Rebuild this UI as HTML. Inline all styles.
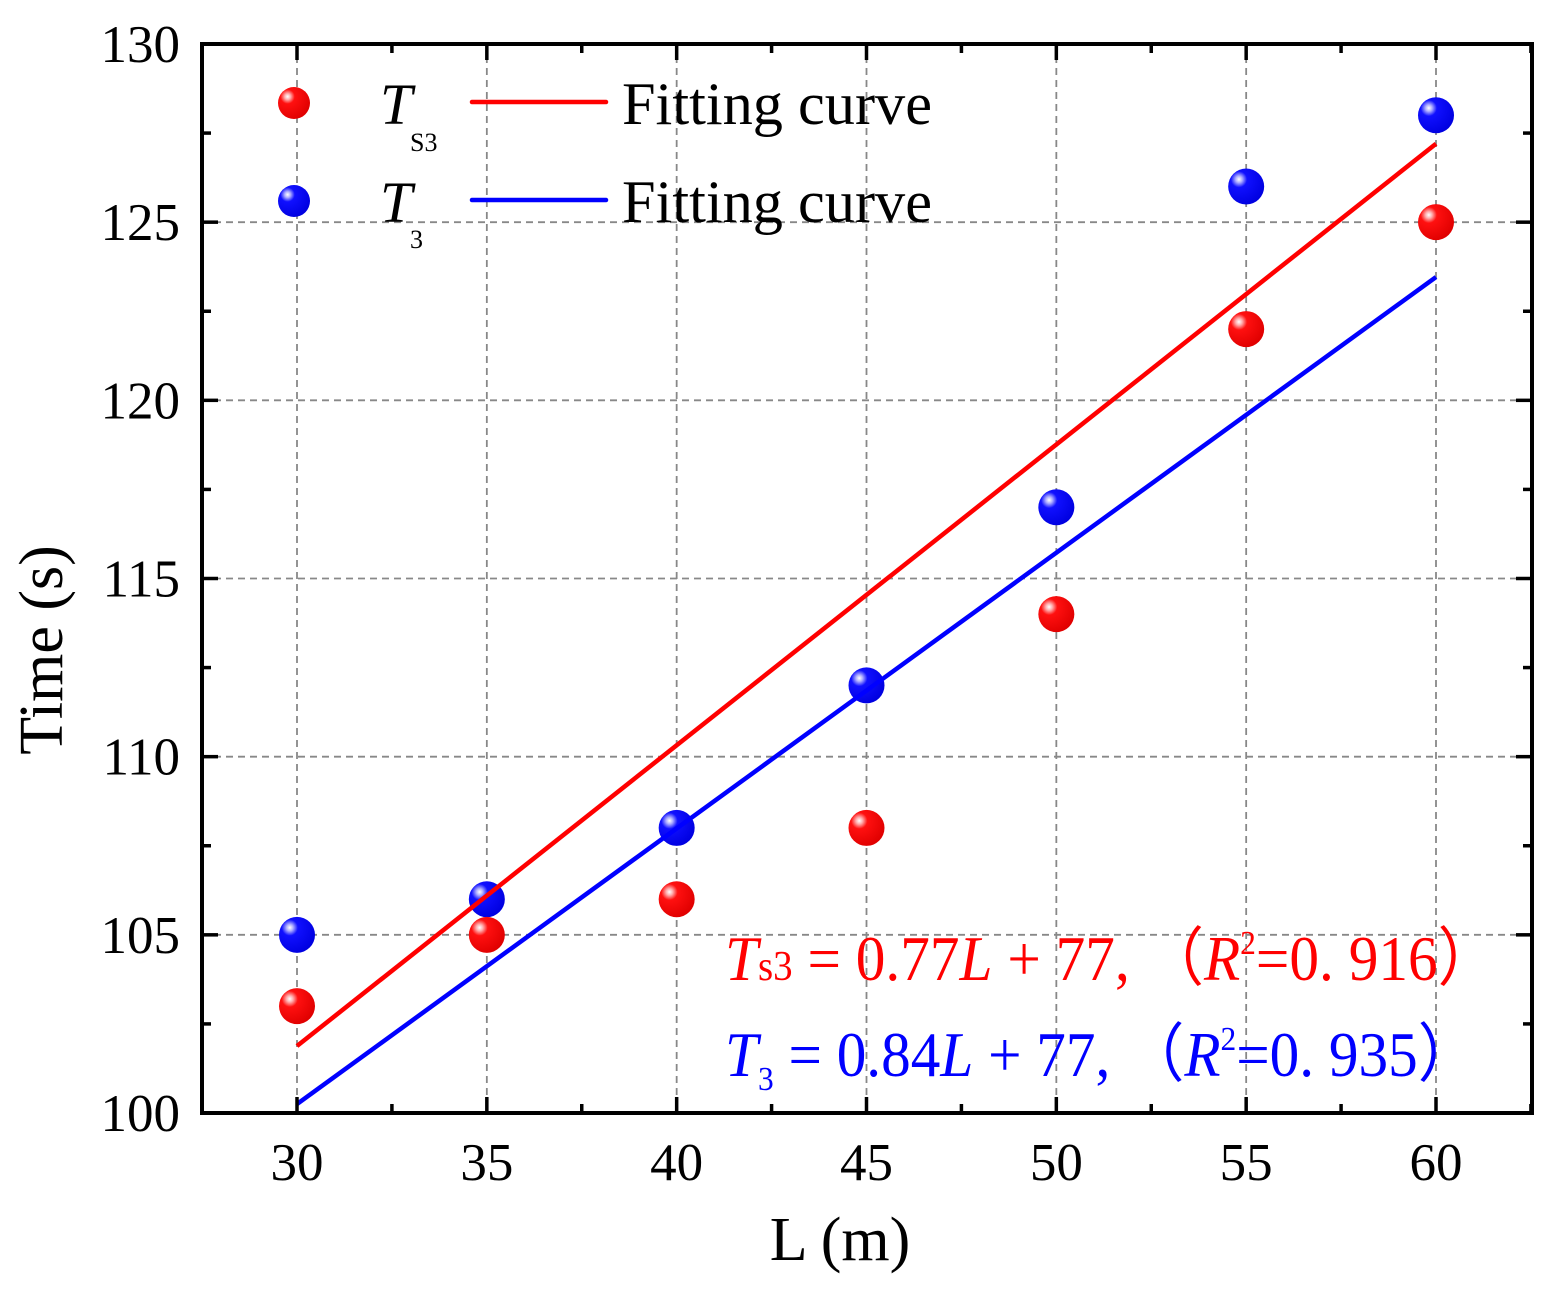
<!DOCTYPE html>
<html><head><meta charset="utf-8"><style>
body{margin:0;background:#fff}
svg{display:block;font-family:"Liberation Serif",serif}
</style></head><body>
<svg id="chart" width="1558" height="1293" viewBox="0 0 1558 1293">
<defs>
<radialGradient id="gr" cx="0.3" cy="0.3" r="0.75">
<stop offset="0" stop-color="#fff"/><stop offset="0.12" stop-color="#ffb0b0"/><stop offset="0.3" stop-color="#ff1010"/><stop offset="1" stop-color="#e00000"/></radialGradient>
<radialGradient id="gb" cx="0.3" cy="0.3" r="0.75">
<stop offset="0" stop-color="#fff"/><stop offset="0.12" stop-color="#b0b0ff"/><stop offset="0.3" stop-color="#1010ff"/><stop offset="1" stop-color="#0000e0"/></radialGradient>
</defs>
<g id="grid"></g>
<g id="marks"></g>
<g id="axes"></g>
<g>
<circle cx="294" cy="103" r="16" fill="url(#gr)"/>
<text x="380" y="124" font-size="58" font-style="italic">T</text>
<text x="410" y="151" font-size="26">S3</text>
<line x1="472" y1="102" x2="606" y2="102" stroke="#ff0000" stroke-width="4.5" stroke-linecap="round"/>
<text x="622" y="124" font-size="60" textLength="310" lengthAdjust="spacingAndGlyphs">Fitting curve</text>
<circle cx="294" cy="201" r="16" fill="url(#gb)"/>
<text x="380" y="222" font-size="58" font-style="italic">T</text>
<text x="410" y="248" font-size="26">3</text>
<line x1="472" y1="200" x2="606" y2="200" stroke="#0000ff" stroke-width="4.5" stroke-linecap="round"/>
<text x="622" y="222" font-size="60" textLength="310" lengthAdjust="spacingAndGlyphs">Fitting curve</text>
</g>
<g>
<text x="725" y="980" font-size="64" fill="#ff0000" textLength="772" lengthAdjust="spacingAndGlyphs"><tspan font-style="italic">T</tspan><tspan font-size="42">s3</tspan> = 0.77<tspan font-style="italic">L</tspan> + 77,  （<tspan font-style="italic">R</tspan><tspan font-size="34" dy="-26">2</tspan><tspan dy="26">=0. 916）</tspan></text>
<text x="725" y="1076" font-size="64" fill="#0000ff" textLength="752" lengthAdjust="spacingAndGlyphs"><tspan font-style="italic">T</tspan><tspan font-size="34" dy="14">3</tspan><tspan dy="-14"> = 0.84</tspan><tspan font-style="italic">L</tspan> + 77,  （<tspan font-style="italic">R</tspan><tspan font-size="34" dy="-26">2</tspan><tspan dy="26">=0. 935）</tspan></text>
</g>
<text x="840" y="1260" font-size="62" text-anchor="middle">L (m)</text>
<text transform="translate(62,650) rotate(-90)" font-size="62" text-anchor="middle">Time (s)</text>
</svg>
<script>
const xCats=[30,35,40,45,50,55,60];
const ts3=[103,105,106,108,114,122,125];
const t3=[105,106,108,112,117,126,128];
const fitRed=[101.88,127.2];
const fitBlue=[100.25,123.46];
const xTicks=[30,35,40,45,50,55,60];
const yTicks=[100,105,110,115,120,125,130];
const L=202,R=1532,T=44,B=1113;
const X=v=>297+(v-30)*(1436-297)/30;
const Y=v=>B-(v-100)*(B-T)/30;
const NS='http://www.w3.org/2000/svg';
function mk(p,tag,a){const e=document.createElementNS(NS,tag);for(const k in a)e.setAttribute(k,a[k]);p.appendChild(e);return e;}
const grid=document.getElementById('grid'),marks=document.getElementById('marks'),axes=document.getElementById('axes');
xTicks.forEach(v=>{const l=mk(grid,'line',{x1:X(v),x2:X(v),y1:T,y2:B,stroke:'#888','stroke-width':1.8,'stroke-dasharray':'7,5'});

});
yTicks.forEach(v=>{const l=mk(grid,'line',{x1:L,x2:R,y1:Y(v),y2:Y(v),stroke:'#888','stroke-width':1.8,'stroke-dasharray':'7,5'});

});
xCats.forEach((c,i)=>{const m=mk(marks,'circle',{cx:X(c),cy:Y(t3[i]),r:18,fill:'url(#gb)'});

});
xCats.forEach((c,i)=>{const m=mk(marks,'circle',{cx:X(c),cy:Y(ts3[i]),r:18,fill:'url(#gr)'});

});
const lb=mk(marks,'line',{x1:X(30),y1:Y(fitBlue[0]),x2:X(60),y2:Y(fitBlue[1]),stroke:'#0000ff','stroke-width':4.5});


const lr=mk(marks,'line',{x1:X(30),y1:Y(fitRed[0]),x2:X(60),y2:Y(fitRed[1]),stroke:'#ff0000','stroke-width':4.5});


const fr=mk(axes,'rect',{x:L,y:T,width:R-L,height:B-T,fill:'none',stroke:'#000','stroke-width':4});


for(let v=27.5;v<=62.5;v+=2.5){const maj=v%5===0;
mk(axes,'line',{x1:X(v),x2:X(v),y1:B,y2:B-(maj?16:9),stroke:'#000','stroke-width':3.5});
mk(axes,'line',{x1:X(v),x2:X(v),y1:T,y2:T+(maj?16:9),stroke:'#000','stroke-width':3.5});}
for(let v=100;v<=130;v+=2.5){const maj=v%5===0;
mk(axes,'line',{x1:L,x2:L+(maj?16:9),y1:Y(v),y2:Y(v),stroke:'#000','stroke-width':3.5});
mk(axes,'line',{x1:R,x2:R-(maj?16:9),y1:Y(v),y2:Y(v),stroke:'#000','stroke-width':3.5});}
xTicks.forEach(v=>{const t=mk(axes,'text',{x:X(v),y:1180,'font-size':53,'text-anchor':'middle'});t.textContent=v;

});
yTicks.forEach(v=>{const t=mk(axes,'text',{x:180,y:Y(v)+18,'font-size':53,'text-anchor':'end'});t.textContent=v;

});
</script>
</body></html>
